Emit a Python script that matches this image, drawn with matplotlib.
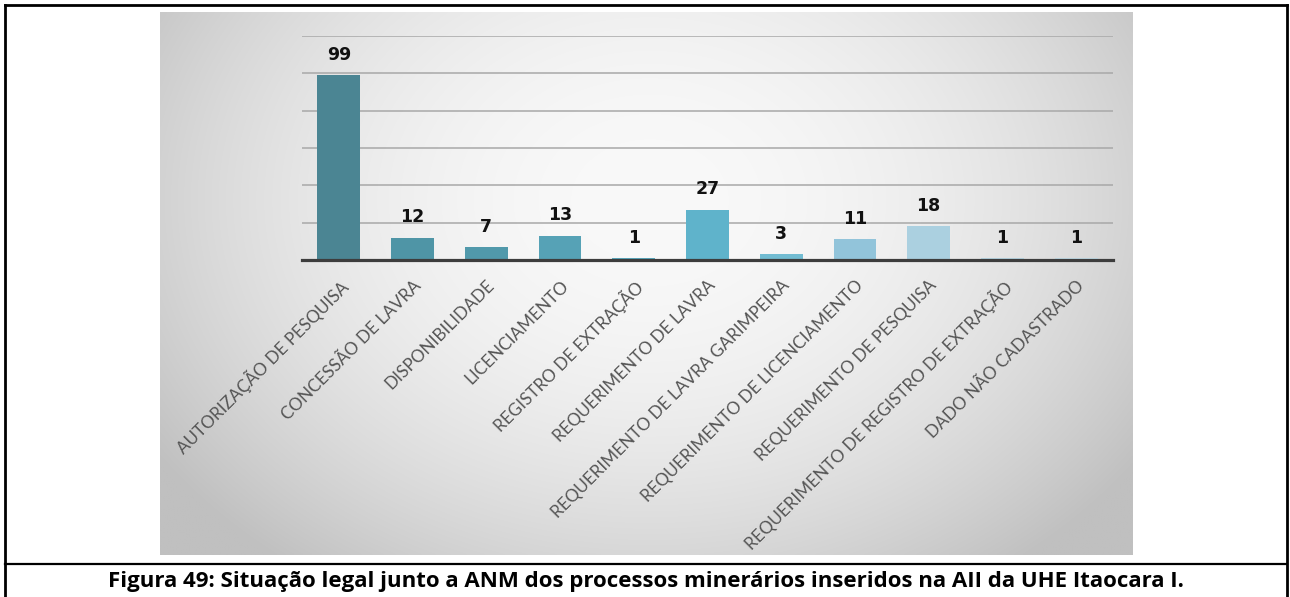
import numpy as np
import matplotlib
matplotlib.use("Agg")
import matplotlib.pyplot as plt
from matplotlib.lines import Line2D

categories = ["AUTORIZAÇÃO DE PESQUISA", "CONCESSÃO DE LAVRA", "DISPONIBILIDADE",
              "LICENCIAMENTO", "REGISTRO DE EXTRAÇÃO", "REQUERIMENTO DE LAVRA",
              "REQUERIMENTO DE LAVRA GARIMPEIRA", "REQUERIMENTO DE LICENCIAMENTO",
              "REQUERIMENTO DE PESQUISA", "REQUERIMENTO DE REGISTRO DE EXTRAÇÃO",
              "DADO NÃO CADASTRADO"]
values = [99, 12, 7, 13, 1, 27, 3, 11, 18, 1, 1]
bar_colors = ["#4b8593", "#4f95a6", "#5199ab", "#56a2b6", "#59aac0", "#5fb3cb",
              "#72bcd2", "#92c4da", "#abd0e0", "#b8d7e4", "#c2dce7"]
caption = "Figura 49: Situação legal junto a ANM dos processos minerários inseridos na AII da UHE Itaocara I."

W, H = 1290, 597
fig = plt.figure(figsize=(W / 100, H / 100), dpi=100)
fig.patch.set_facecolor("white")

# background panel with radial gradient
px0, px1, py0, py1 = 160, 1133, 12, 555
bg = fig.add_axes([px0 / W, 1 - py1 / H, (px1 - px0) / W, (py1 - py0) / H])
xx, yy = np.meshgrid(np.linspace(px0, px1, 400), np.linspace(py0, py1, 250))
d2 = ((xx - 650) / 580) ** 2 + ((yy - 200) / 450) ** 2
g = np.clip(249 - 54 * d2, 192, 250) / 255.0
bg.imshow(np.dstack([g, g, g]), aspect="auto", extent=[0, 1, 0, 1], interpolation="bilinear")
bg.set_axis_off()

# main axes
ax0, ax1, ay_top, ay_bot = 302, 1113, 36, 260
ax = fig.add_axes([ax0 / W, 1 - ay_bot / H, (ax1 - ax0) / W, (ay_bot - ay_top) / H])
ax.set_facecolor("none")
x = np.arange(len(categories))
bars = ax.bar(x, values, width=0.58, color=bar_colors, zorder=3)
ax.set_xlim(-0.5, len(categories) - 0.5)
ax.set_ylim(0, 120)
ax.set_yticks(np.arange(20, 121, 20))
ax.yaxis.grid(True, color="#a8a8a8", linewidth=1.1, zorder=1)
ax.tick_params(axis="y", left=False, labelleft=False)
ax.tick_params(axis="x", bottom=False, pad=9)
for s in ["top", "right", "left"]:
    ax.spines[s].set_visible(False)
ax.spines["bottom"].set_color("#3d3d3d")
ax.spines["bottom"].set_linewidth(2.3)
ax.spines["bottom"].set_zorder(4)
ax.set_xticks(x)
ax.set_xticklabels(categories, rotation=45, ha="right", rotation_mode="anchor",
                   fontsize=12.3, color="#555555", family="Lato")
for xi, v in zip(x, values):
    ax.annotate(str(v), (xi, v), xytext=(0, 11), textcoords="offset points",
                ha="center", va="baseline", fontsize=12.5, fontweight="bold",
                family="DejaVu Sans", color="#111111", zorder=5, annotation_clip=False)

# borders and caption
def hline(y, x0=5, x1=1287, lw=2.0):
    fig.add_artist(Line2D([x0 / W, x1 / W], [1 - y / H, 1 - y / H], color="black", lw=lw))

def vline(xp, y0=5, y1=597, lw=2.0):
    fig.add_artist(Line2D([xp / W, xp / W], [1 - y0 / H, 1 - y1 / H], color="black", lw=lw))

hline(5)
hline(564, lw=1.6)
vline(5)
vline(1287)
fig.text(646 / W, 1 - 581 / H, caption, ha="center", va="center", fontsize=16,
         fontweight="bold", family="Open Sans", color="black")

fig.savefig("out.png", dpi=100)
